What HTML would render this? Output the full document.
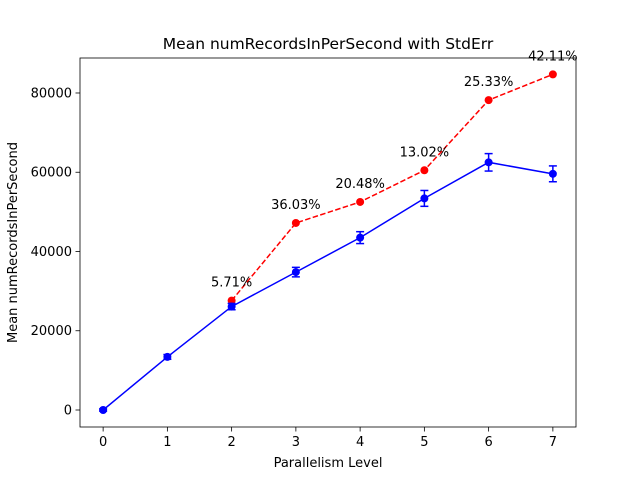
<!DOCTYPE html>
<html><head><meta charset="utf-8"><style>body{margin:0;background:#fff}svg{display:block}text{font-family:"DejaVu Sans","Liberation Sans",sans-serif}</style></head>
<body>
<svg id="c" width="640" height="480"></svg>
<script>
const levels=[0,1,2,3,4,5,6,7];
const blueMean=[0,13400,26100,34800,43500,53400,62500,59600];
const blueErr=[300,600,800,1200,1500,2000,2200,2000];
const redLevels=[2,3,4,5,6,7];
const redVals=[27600,47200,52500,60500,78200,84700];
const redLabels=["5.71%","36.03%","20.48%","13.02%","25.33%","42.11%"];
const xTicks=[0,1,2,3,4,5,6,7];
const yTicks=[0,20000,40000,60000,80000];
const L=80,R=576,T=58,B=427,x0=-0.36,x1=7.36,y0=-4290,y1=88830;
const X=v=>L+(v-x0)/(x1-x0)*(R-L), Y=v=>B-(v-y0)/(y1-y0)*(B-T);
const s=document.getElementById('c');const NS='http://www.w3.org/2000/svg';
function el(t,a,n,txt){const e=document.createElementNS(NS,t);for(const k in a)e.setAttribute(k,a[k]);


if(txt!==undefined)e.textContent=txt;s.appendChild(e);return e;}
el('rect',{x:L,y:T,width:R-L,height:B-T,fill:'none',stroke:'#000','stroke-width':0.8},'plot-frame');
xTicks.forEach(v=>{el('line',{x1:X(v),x2:X(v),y1:B,y2:B+4.5,stroke:'#000','stroke-width':0.8},'x-tick');el('text',{x:X(v),y:B+19,'font-size':13,'text-anchor':'middle'},'x-tick-label',v);});
yTicks.forEach(v=>{el('line',{x1:L,x2:L-4.5,y1:Y(v),y2:Y(v),stroke:'#000','stroke-width':0.8},'y-tick');el('text',{x:L-8,y:Y(v)+4.5,'font-size':13,'text-anchor':'end'},'y-tick-label',v);});
el('text',{x:(L+R)/2,y:467,'font-size':13,'text-anchor':'middle'},'x-axis-title','Parallelism Level');
el('text',{x:17,y:(T+B)/2,'font-size':13,'text-anchor':'middle',transform:`rotate(-90 17 ${(T+B)/2})`},'y-axis-title','Mean numRecordsInPerSecond');
el('text',{x:(L+R)/2,y:49,'font-size':15.5,'text-anchor':'middle'},'chart-title','Mean numRecordsInPerSecond with StdErr');
el('polyline',{points:redLevels.map((l,i)=>X(l)+','+Y(redVals[i])).join(' '),fill:'none',stroke:'red','stroke-width':1.5,'stroke-dasharray':'5.5,2.4'},'red-line');
redLevels.forEach((l,i)=>{el('circle',{cx:X(l),cy:Y(redVals[i]),r:4,fill:'red'},'red-point');el('text',{x:X(l),y:Y(redVals[i])-14,'font-size':13,'text-anchor':'middle'},'percent-label',redLabels[i]);});
el('polyline',{points:levels.map((l,i)=>X(l)+','+Y(blueMean[i])).join(' '),fill:'none',stroke:'blue','stroke-width':1.5},'blue-line');
levels.forEach((l,i)=>{const x=X(l),a=Y(blueMean[i]+blueErr[i]),b=Y(blueMean[i]-blueErr[i]);
el('line',{x1:x,x2:x,y1:a,y2:b,stroke:'blue','stroke-width':1.5},'error-bar');
el('line',{x1:x-4,x2:x+4,y1:a,y2:a,stroke:'blue','stroke-width':1.5},'error-cap');
el('line',{x1:x-4,x2:x+4,y1:b,y2:b,stroke:'blue','stroke-width':1.5},'error-cap');
el('circle',{cx:x,cy:Y(blueMean[i]),r:4,fill:'blue'},'blue-point');});
</script>
</body></html>
